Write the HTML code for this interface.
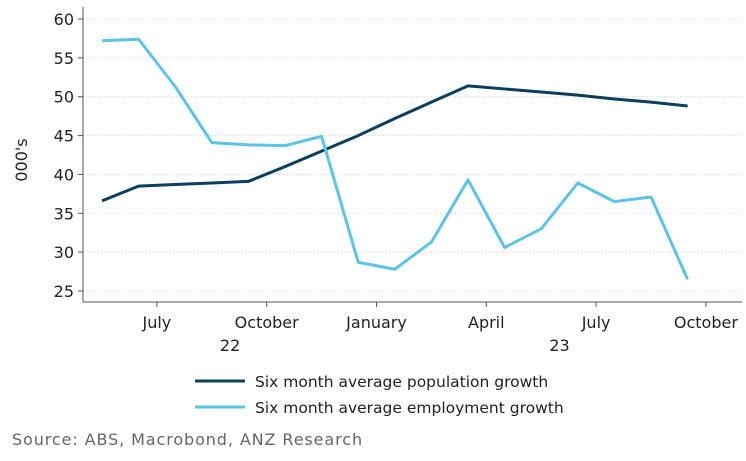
<!DOCTYPE html>
<html><head><meta charset="utf-8"><style>
body{margin:0;background:#fff;}
svg{display:block;font-family:"DejaVu Sans","Liberation Sans",sans-serif;}
</style></head><body>
<svg id="chart" width="746" height="461">
<g id="grid"></g>
<g id="yaxis"></g>
<g id="xaxis"></g>
<text x="27" y="160" transform="rotate(-90 27 160)" text-anchor="middle" font-size="16" fill="#222">000's</text>
<g id="series"></g>
<g>
<g>
<line x1="195" y1="381" x2="245" y2="381" stroke="#0b3f5e" stroke-width="3"/>
<text x="255" y="387" font-size="15.5" fill="#222">Six month average population growth</text></g>
<g>
<line x1="195" y1="407" x2="245" y2="407" stroke="#5bc4e8" stroke-width="3"/>
<text x="255" y="413" font-size="15.5" fill="#222">Six month average employment growth</text></g>
</g>
<text x="12" y="445" font-size="16" letter-spacing="0.9" fill="#666">Source: ABS, Macrobond, ANZ Research</text>
</svg>
<script>
const months = ["May22","Jun22","Jul22","Aug22","Sep22","Oct22","Nov22","Dec22","Jan23","Feb23","Mar23","Apr23","May23","Jun23","Jul23","Aug23","Sep23"];
const population = [36.6,38.5,38.7,38.9,39.1,41.0,43.0,45.0,47.2,49.3,51.4,51.0,50.6,50.2,49.7,49.3,48.8];
const employment = [57.2,57.4,51.3,44.1,43.8,43.7,44.9,28.7,27.8,31.3,39.3,30.6,33.0,38.9,36.5,37.1,26.5];
const yTicks = [25,30,35,40,45,50,55,60];
const xTickLabels = ["July","October","January","April","July","October"];
const xTickMonthIndex = [1.5,4.5,7.5,10.5,13.5,16.5];
const yearLabels = ["22","23"];
const yearMonthIndex = [3.5,12.5];

const NS="http://www.w3.org/2000/svg";
const X0=83,X1=742,Y0=302;
function x(i){return 102+36.6*i;}
function y(v){return 291-(v-25)*(272/35);}
function mk(tag,attrs,parent){const e=document.createElementNS(NS,tag);for(const k in attrs)e.setAttribute(k,attrs[k]);parent.appendChild(e);return e;}
const grid=document.getElementById('grid'),ya=document.getElementById('yaxis'),xa=document.getElementById('xaxis'),ser=document.getElementById('series');
yTicks.forEach(v=>{
  const g=mk('line',{x1:X0,x2:X1,y1:y(v),y2:y(v),stroke:'#c8d0d6','stroke-width':1,'stroke-dasharray':'1,2'},grid);
  
  
  mk('line',{x1:X0-5,x2:X0,y1:y(v),y2:y(v),stroke:'#555'},ya);
  const t=mk('text',{x:X0-9,y:y(v)+6,'text-anchor':'end','font-size':16,fill:'#222'},ya);
  t.textContent=v;
  
  
});
mk('line',{x1:X0,x2:X0,y1:7,y2:Y0,stroke:'#555'},ya);
mk('line',{x1:X0,x2:X1,y1:Y0,y2:Y0,stroke:'#555'},xa);
xTickLabels.forEach((l,k)=>{
  const xp=x(xTickMonthIndex[k]);
  mk('line',{x1:xp,x2:xp,y1:Y0,y2:Y0+5,stroke:'#555'},xa);
  const t=mk('text',{x:xp,y:328,'text-anchor':'middle','font-size':16,fill:'#222'},xa);
  t.textContent=l;
  
  
});
yearLabels.forEach((l,k)=>{
  const t=mk('text',{x:x(yearMonthIndex[k]),y:351,'text-anchor':'middle','font-size':16,fill:'#222'},xa);
  t.textContent=l;
  
  
});
function line(data,color,name){
  const p=mk('polyline',{points:data.map((v,i)=>x(i)+','+y(v)).join(' '),fill:'none',stroke:color,'stroke-width':3,'stroke-linejoin':'round'},ser);
  
  
}
line(population,'#0b3f5e','population-growth-line');
line(employment,'#5bc4e8','employment-growth-line');
</script>
</body></html>
